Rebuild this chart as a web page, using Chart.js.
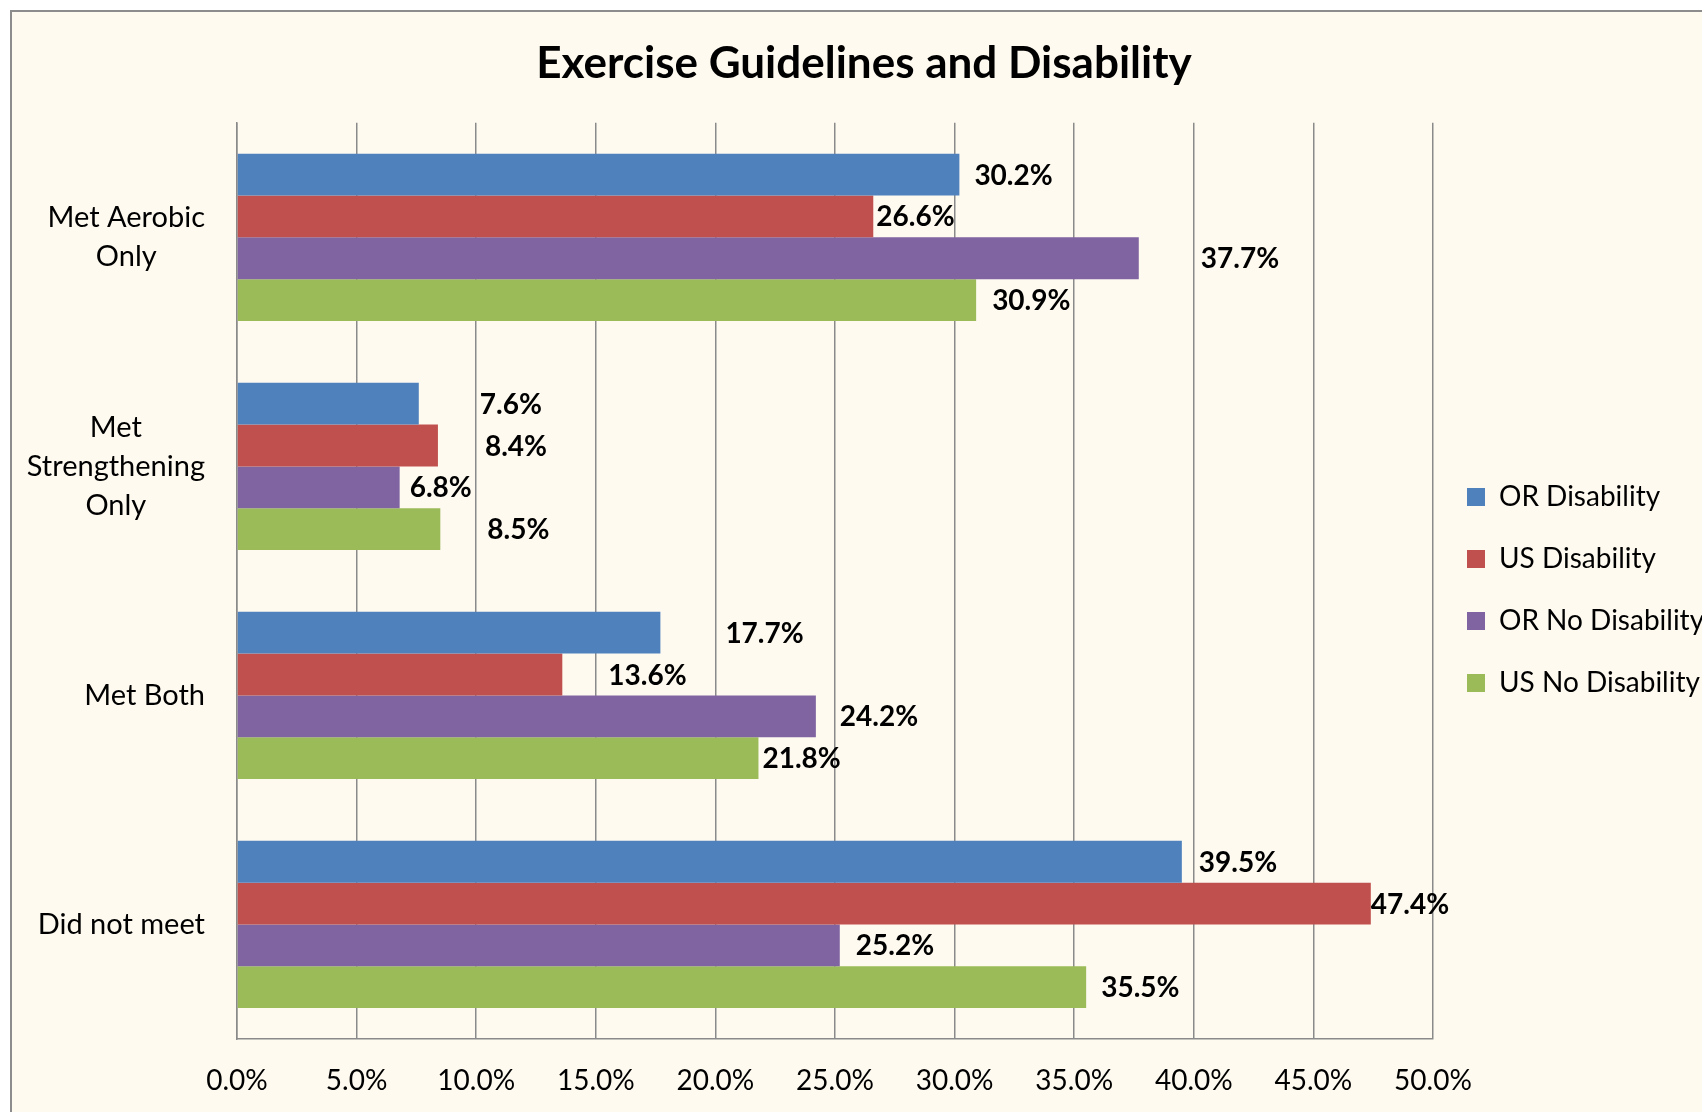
<!DOCTYPE html>
<html><head><meta charset="utf-8">
<script src="https://cdn.jsdelivr.net/npm/chart.js@4"></script>
<style>html,body{margin:0;padding:0;background:#fff;overflow:hidden;}</style>
</head><body>
<canvas id="c" width="1702" height="1112"></canvas>
<script>
// ---- data ----
const categories = [["Met Aerobic", "Only"], ["Met", "Strengthening", "Only"], "Met Both", "Did not meet"];
const seriesNames = ["OR Disability", "US Disability", "OR No Disability", "US No Disability"];
const orDisability   = [30.2, 7.6, 17.7, 39.5];
const usDisability   = [26.6, 8.4, 13.6, 47.4];
const orNoDisability = [37.7, 6.8, 24.2, 25.2];
const usNoDisability = [30.9, 8.5, 21.8, 35.5];
const xTickMin = 0, xTickMax = 50, xTickStep = 5;
const titleText = "Exercise Guidelines and Disability";

// ---- styles ----
const seriesColors = ["#4F81BD", "#C0504D", "#8064A2", "#9BBB59"];
const FONT = "Lato, 'Open Sans', sans-serif";
const GRID = "#8a8a8a";
const CREAM = "#FEFAF0";
// horizontal nudge (px) of each value label from its bar end, as placed in the original
const labelNudge = [
  [15, 61, 65, 17],
  [3, 47, 46, 0],
  [62, 10, 24, 16],
  [16, 47, 4, 15]
];

const seriesValues = [orDisability, usDisability, orNoDisability, usNoDisability];

const backgroundPlugin = {
  id: 'bgFrame',
  beforeDraw(chart) {
    const ctx = chart.ctx;
    ctx.save();
    ctx.fillStyle = '#ffffff';
    ctx.fillRect(0, 0, chart.width, chart.height);
    ctx.fillStyle = CREAM;
    ctx.fillRect(11, 11, chart.width, chart.height);
    ctx.strokeStyle = '#8c8c8c';
    ctx.lineWidth = 2;
    ctx.beginPath();
    ctx.moveTo(11, chart.height + 5);
    ctx.lineTo(11, 11);
    ctx.lineTo(chart.width + 5, 11);
    ctx.stroke();
    ctx.restore();
  }
};

const legendWidthPlugin = {
  id: 'legendWidth',
  afterInit(chart) {
    const lg = chart.legend;
    if (!lg) return;
    const fit = lg.fit.bind(lg);
    lg.fit = function () { fit(); this.width = 269; };
  }
};

const categoryLabelPlugin = {
  id: 'catLabels',
  afterDraw(chart) {
    const ctx = chart.ctx, ys = chart.scales.y;
    ctx.save();
    ctx.font = "29px " + FONT;
    ctx.fillStyle = '#000';
    ctx.textAlign = 'center';
    ctx.textBaseline = 'middle';
    const lineH = 39;
    categories.forEach((lab, i) => {
      const lines = Array.isArray(lab) ? lab : [lab];
      const w = Math.max(...lines.map(l => ctx.measureText(l).width));
      const cx = ys.right - 32 - w / 2;
      const cy = ys.getPixelForTick(i);
      lines.forEach((l, j) => ctx.fillText(l, cx, cy + (j - (lines.length - 1) / 2) * lineH));
    });
    ctx.restore();
  }
};

const valueLabelPlugin = {
  id: 'valueLabels',
  afterDatasetsDraw(chart) {
    const ctx = chart.ctx;
    ctx.save();
    ctx.font = "bold 28px " + FONT;
    ctx.fillStyle = '#000';
    ctx.textAlign = 'left';
    ctx.textBaseline = 'middle';
    chart.data.datasets.forEach((ds, di) => {
      const meta = chart.getDatasetMeta(di);
      meta.data.forEach((bar, i) => {
        ctx.fillText(ds.data[i].toFixed(1) + '%', bar.x + labelNudge[di][i], bar.y + 1);
      });
    });
    ctx.restore();
  }
};

new Chart(document.getElementById('c'), {
  type: 'bar',
  data: {
    labels: categories,
    datasets: seriesNames.map((name, i) => ({
      label: name,
      data: seriesValues[i],
      backgroundColor: seriesColors[i],
      borderWidth: 0,
      categoryPercentage: 0.73,
      barPercentage: 1.0
    }))
  },
  options: {
    indexAxis: 'y',
    responsive: false,
    animation: false,
    devicePixelRatio: 1,
    layout: { padding: { left: 26, right: 0, top: 0, bottom: 0 } },
    plugins: {
      tooltip: { enabled: false },
      title: {
        display: true,
        text: titleText,
        color: '#000',
        font: { family: FONT, size: 44, weight: 'bold', lineHeight: 1.2 },
        padding: { top: 37, bottom: 33 }
      },
      legend: {
        display: true,
        position: 'right',
        fullSize: false,
        align: 'center',
        title: { display: true, text: '', font: { size: 10, lineHeight: 1.8 }, padding: 0 },
        labels: {
          color: '#000',
          font: { family: FONT, size: 28 },
          boxWidth: 18,
          boxHeight: 18,
          padding: 34
        }
      }
    },
    scales: {
      x: {
        type: 'linear',
        min: xTickMin,
        max: xTickMax,
        ticks: {
          stepSize: xTickStep,
          color: '#000',
          font: { family: FONT, size: 28 },
          padding: 25,
          callback: v => Number(v).toFixed(1) + '%'
        },
        grid: { color: GRID, lineWidth: 1.5, drawTicks: false },
        border: { display: true, color: GRID, width: 1.5 },
        afterFit(scale) { scale.height = 73; }
      },
      y: {
        type: 'category',
        ticks: { display: false },
        grid: { display: false, drawTicks: false },
        border: { display: true, color: GRID, width: 1.5 },
        afterFit(scale) { scale.width = 211; }
      }
    }
  },
  plugins: [backgroundPlugin, legendWidthPlugin, categoryLabelPlugin, valueLabelPlugin]
});
</script>
</body></html>
